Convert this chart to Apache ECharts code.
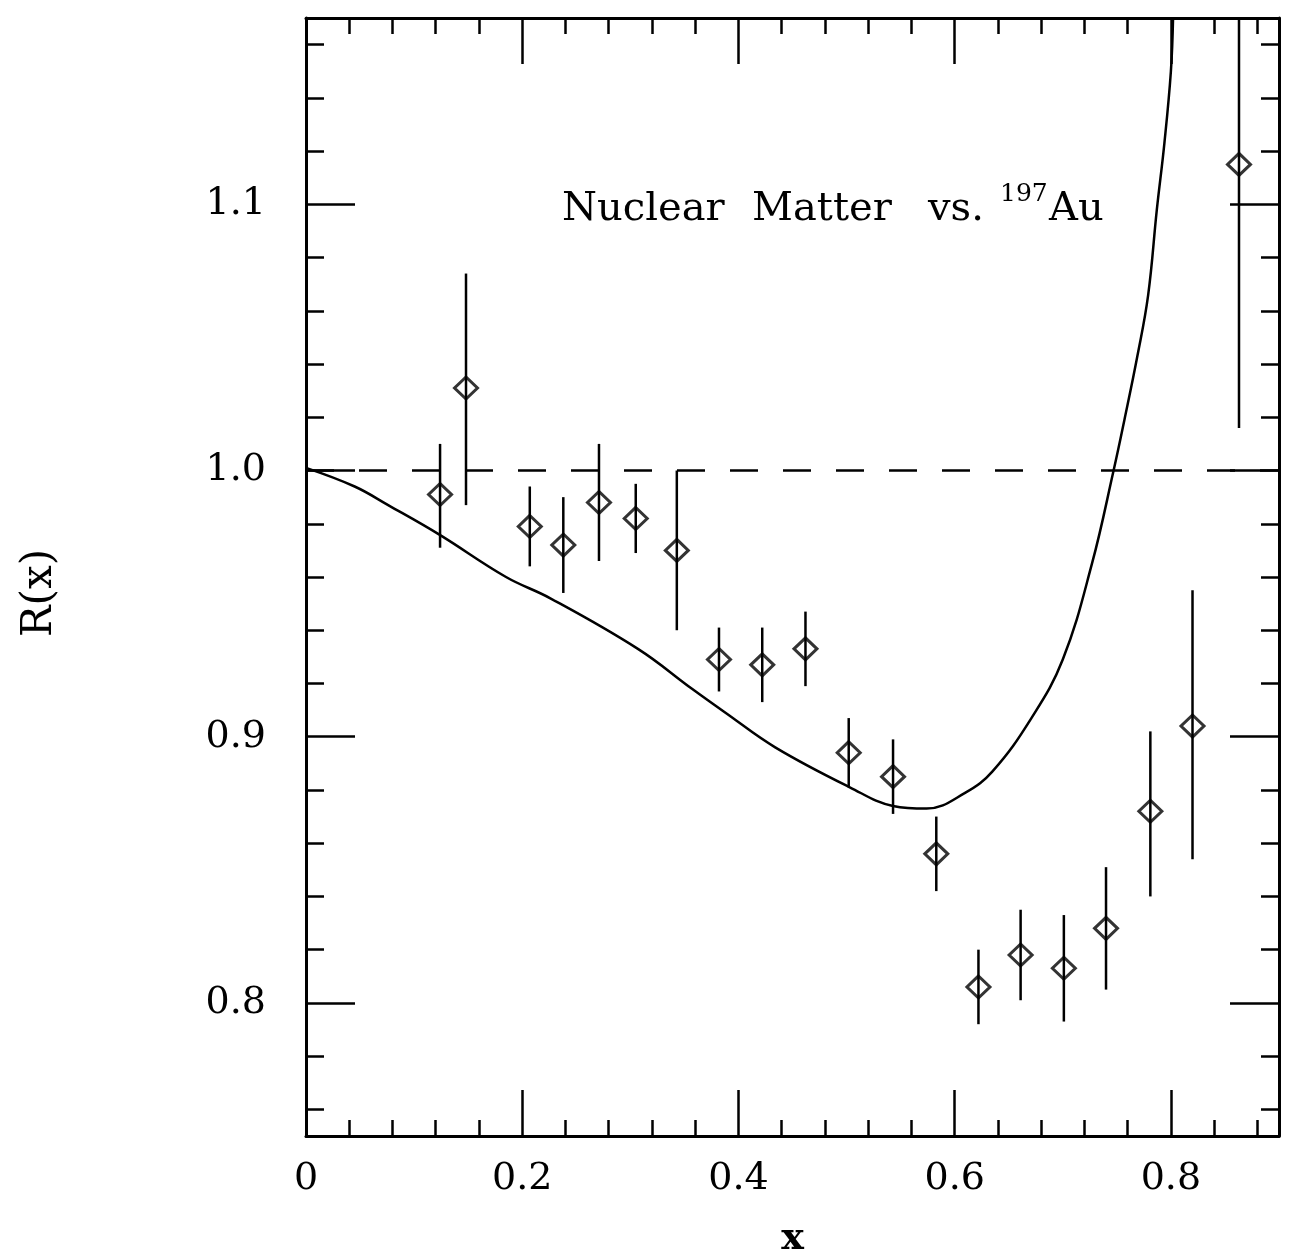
<!DOCTYPE html>
<html>
<head>
<meta charset="utf-8">
<title>R(x): Nuclear Matter vs. 197Au</title>
<script src="https://cdn.jsdelivr.net/npm/echarts@6/dist/echarts.min.js"></script>
<style>
  html, body { margin: 0; padding: 0; background: #fff; }
  #chart { width: 1290px; height: 1255px; }
</style>
</head>
<body>
<div id="chart"></div>
<script>
// measured points (diamonds) with their error bars
const pointX = [0.124, 0.148, 0.207, 0.238, 0.271, 0.305, 0.343, 0.382, 0.422, 0.462,
                0.502, 0.543, 0.583, 0.622, 0.661, 0.701, 0.740, 0.781, 0.820, 0.863];
const pointR = [0.991, 1.031, 0.979, 0.972, 0.988, 0.982, 0.970, 0.929, 0.927, 0.933,
                0.894, 0.885, 0.856, 0.806, 0.818, 0.813, 0.828, 0.872, 0.904, 1.115];
const errHi  = [1.010, 1.074, 0.994, 0.990, 1.010, 0.995, 1.000, 0.941, 0.941, 0.947,
                0.907, 0.899, 0.870, 0.820, 0.835, 0.833, 0.851, 0.902, 0.955, 1.170];
const errLo  = [0.971, 0.987, 0.964, 0.954, 0.966, 0.969, 0.940, 0.917, 0.913, 0.919,
                0.881, 0.871, 0.842, 0.792, 0.801, 0.793, 0.805, 0.840, 0.854, 1.016];

// solid theory curve
const curveX = [0.000, 0.045, 0.076, 0.123, 0.185, 0.226, 0.307, 0.357, 0.388, 0.434,
                0.503, 0.543, 0.574, 0.610, 0.635, 0.671, 0.700, 0.727, 0.747, 0.757,
                0.769, 0.779, 0.787, 0.794, 0.800, 0.802];
const curveR = [1.001, 0.994, 0.987, 0.976, 0.960, 0.952, 0.933, 0.918, 0.909, 0.896,
                0.881, 0.874, 0.873, 0.879, 0.887, 0.907, 0.929, 0.965, 1.000, 1.019,
                1.043, 1.066, 1.098, 1.123, 1.150, 1.170];

// dashed reference line R = 1
const refX = [0, 0.9];
const refR = [1, 1];

const chart = echarts.init(document.getElementById('chart'));

const axisLine = { show: true, onZero: false, lineStyle: { color: '#000', width: 3 } };
const xTick = { show: true, inside: true, length: 46, lineStyle: { color: '#000', width: 2.5 } };
const xMinor = { show: true, splitNumber: 5, length: 16, lineStyle: { color: '#000', width: 2.5 } };
const yTick = { show: true, inside: true, length: 49, lineStyle: { color: '#000', width: 2.5 } };
const yMinor = { show: true, splitNumber: 5, length: 18, lineStyle: { color: '#000', width: 2.5 } };
const serif = 'DejaVu Serif';

function titleText(text, x, y, size) {
  return {
    type: 'text', x: x, y: y, silent: true,
    style: {
      text: text, fill: '#000', font: size + 'px "DejaVu Serif"',
      align: 'left', verticalAlign: 'middle', textAlign: 'left', textVerticalAlign: 'middle'
    }
  };
}

const option = {
  animation: false,
  backgroundColor: '#fff',
  grid: { left: 306, right: 11, top: 18, bottom: 119, containLabel: false, outerBoundsMode: 'none' },
  xAxis: [
    {
      type: 'value', position: 'bottom', min: 0, max: 0.9, interval: 0.2,
      axisLine: axisLine, axisTick: xTick, minorTick: xMinor,
      splitLine: { show: false }, minorSplitLine: { show: false },
      axisLabel: {
        color: '#000', fontFamily: serif, fontSize: 38, margin: 24, showMaxLabel: false,
        formatter: v => v === 0 ? '0' : v.toFixed(1)
      },
      name: 'x', nameLocation: 'middle', nameGap: 84,
      nameTextStyle: { color: '#000', fontFamily: serif, fontSize: 38, fontWeight: 'bold' }
    },
    {
      type: 'value', position: 'top', min: 0, max: 0.9, interval: 0.2,
      axisLine: axisLine, axisTick: xTick, minorTick: xMinor,
      splitLine: { show: false }, axisLabel: { show: false }
    }
  ],
  yAxis: [
    {
      type: 'value', position: 'left', min: 0.75, max: 1.17, splitNumber: 4,
      axisLine: axisLine, axisTick: yTick, minorTick: yMinor,
      splitLine: { show: false }, minorSplitLine: { show: false },
      axisLabel: {
        color: '#000', fontFamily: serif, fontSize: 38, margin: 40,
        showMinLabel: false, showMaxLabel: false,
        formatter: v => v.toFixed(1)
      },
      name: 'R(x)', nameLocation: 'middle', nameRotate: 90, nameGap: 245,
      nameTextStyle: { color: '#000', fontFamily: serif, fontSize: 42, padding: [0, 32, 0, 0] }
    },
    {
      type: 'value', position: 'right', min: 0.75, max: 1.17, splitNumber: 4,
      axisLine: axisLine, axisTick: yTick, minorTick: yMinor,
      splitLine: { show: false }, axisLabel: { show: false }
    }
  ],
  graphic: [
    titleText('Nuclear', 562, 210, 40),
    titleText('Matter', 752, 210, 40),
    titleText('vs.', 928, 210, 40),
    titleText('197', 1000, 194, 25),
    titleText('Au', 1049, 210, 40)
  ],
  series: [
    {
      name: 'reference', type: 'line', silent: true, showSymbol: false,
      data: refX.map((x, i) => [x, refR[i]]),
      lineStyle: { color: '#000', width: 2.5, type: [28, 25] }
    },
    {
      name: 'theory', type: 'line', silent: true, showSymbol: false, smooth: 0.4,
      data: curveX.map((x, i) => [x, curveR[i]]),
      lineStyle: { color: '#000', width: 2.5 }
    },
    {
      name: 'errors', type: 'custom', silent: true, clip: true,
      data: pointX.map((x, i) => [x, errHi[i], errLo[i]]),
      encode: { x: 0, y: [1, 2] },
      renderItem: function (params, api) {
        const top = api.coord([api.value(0), api.value(1)]);
        const bot = api.coord([api.value(0), api.value(2)]);
        return {
          type: 'line',
          shape: { x1: top[0], y1: top[1], x2: bot[0], y2: bot[1] },
          style: { stroke: '#000', lineWidth: 2.5 }
        };
      }
    },
    {
      name: 'data', type: 'scatter', silent: true,
      symbol: 'diamond', symbolSize: [23, 22],
      data: pointX.map((x, i) => [x, pointR[i]]),
      itemStyle: { color: 'rgba(0,0,0,0)', borderColor: '#000', borderWidth: 3 }
    }
  ]
};

chart.setOption(option);
</script>
</body>
</html>
